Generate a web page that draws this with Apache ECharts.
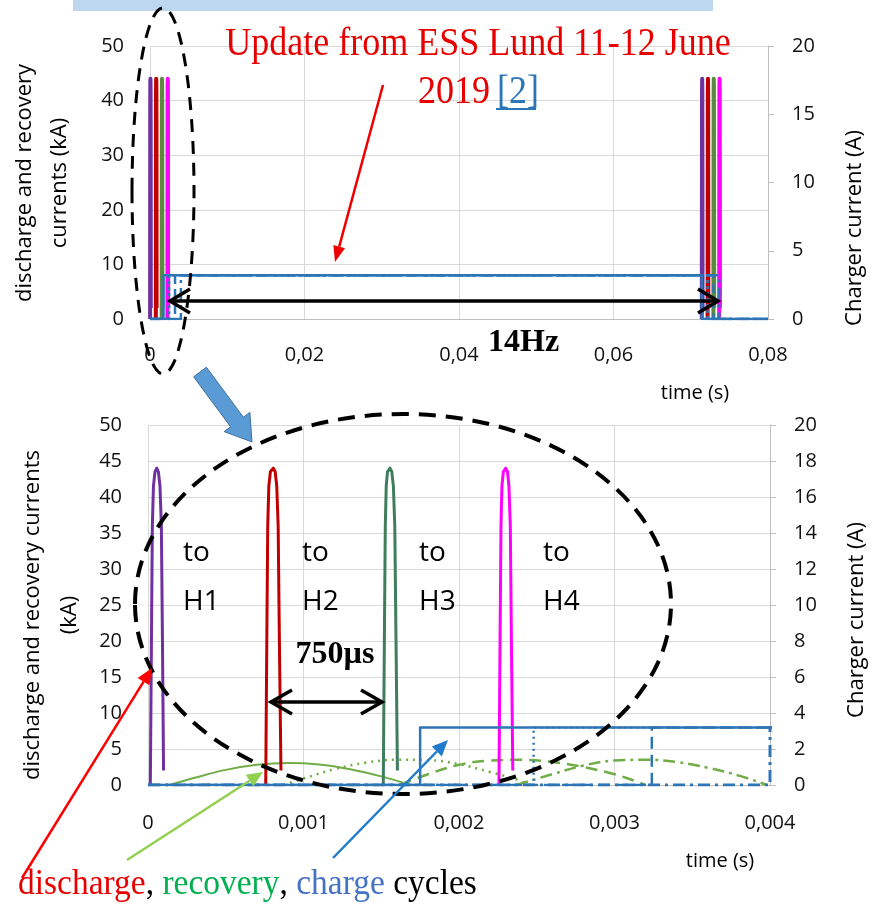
<!DOCTYPE html>
<html><head><meta charset="utf-8">
<script src="https://cdn.jsdelivr.net/npm/echarts/dist/echarts.min.js"></script>
<style>html,body{margin:0;padding:0;background:#fff;}#c{width:875px;height:908px;}</style>
</head><body><div id="c"></div>
<script>
// ---------- DATA (time in s, discharge/recovery in kA, charge in A) ----------
const dischargeH1 = [[0.000015,0],[0.000022,20],[0.000028,36],[0.000035,41.5],[0.000045,43.5],[0.000056,44],[0.000067,43.5],[0.000077,41.5],[0.000086,36],[0.000093,20],[0.0001,2]];
const dischargeH2 = [[0.000757,0],[0.000764,20],[0.00077,36],[0.000777,41.5],[0.000787,43.5],[0.000806,44],[0.000818,43.5],[0.000828,41.5],[0.000837,36],[0.000845,20],[0.000855,2]];
const dischargeH3 = [[0.001513,0],[0.00152,20],[0.001526,36],[0.001532,41.5],[0.00154,43.5],[0.001556,44],[0.001568,43.5],[0.001578,41.5],[0.001587,36],[0.001595,20],[0.001604,2]];
const dischargeH4 = [[0.002257,0],[0.002264,20],[0.00227,36],[0.002276,41.5],[0.002285,43.5],[0.0023,44],[0.002312,43.5],[0.002321,41.5],[0.00233,36],[0.002337,20],[0.002346,2]];
// next 14 Hz cycle (top chart only)
const nextH1 = [[0.07143,0],[0.07146,42],[0.07148,44],[0.0715,42],[0.07153,2]];
const nextH2 = [[0.07218,0],[0.07221,42],[0.07223,44],[0.07225,42],[0.07228,2]];
const nextH3 = [[0.07293,0],[0.07296,42],[0.07298,44],[0.073,42],[0.07303,2]];
const nextH4 = [[0.07368,0],[0.07371,42],[0.07373,44],[0.07375,42],[0.07378,2]];
// recovery currents (kA)
const recovery1 = [[0.00014,0],[0.0003,1.0],[0.0005,2.1],[0.0007,2.8],[0.0009,3.05],[0.0011,2.85],[0.0013,2.2],[0.0015,1.2],[0.00169,0]];
const recovery2 = [[0.00087,0],[0.001,0.9],[0.0012,2.2],[0.0014,3.1],[0.0016,3.5],[0.0018,3.45],[0.002,2.9],[0.0022,1.8],[0.00235,0.9],[0.00246,0]];
const recovery3 = [[0.00162,0],[0.0018,1.5],[0.002,2.8],[0.0022,3.4],[0.0024,3.5],[0.0026,3.2],[0.0028,2.5],[0.003,1.5],[0.0031,0.8],[0.0032,0]];
const recovery4 = [[0.00237,0],[0.0026,1.5],[0.0028,2.7],[0.003,3.4],[0.0032,3.5],[0.0034,3.2],[0.0036,2.4],[0.0038,1.3],[0.00398,0]];
// charger currents (A)
const charge1 = [[0,0],[0.00175,0],[0.00175,3.2],[0.07143,3.2],[0.07143,0],[0.08,0]];
const charge2 = [[0,0],[0.00248,0],[0.00248,3.2],[0.07218,3.2],[0.07218,0],[0.08,0]];
const charge3 = [[0,0],[0.00324,0],[0.00324,3.2],[0.07293,3.2],[0.07293,0],[0.08,0]];
const charge4 = [[0,0],[0.004,0],[0.004,3.2],[0.07368,3.2],[0.07368,0],[0.08,0]];
// axis ranges / ticks
const topTime = {min:0, max:0.08, step:0.02};
const botTime = {min:0, max:0.004, step:0.001};
const topKA = {min:0, max:50, step:10};
const topA = {min:0, max:20, step:5};
const botKA = {min:0, max:50, step:5};
const botA = {min:0, max:20, step:2};

// ---------- STYLE ----------
const SANS = "'Open Sans', 'DejaVu Sans', sans-serif";
const SERIF = "'Liberation Serif', 'DejaVu Serif', serif";
const C = {purple:'#7030a0', red:'#c00000', green:'#3f7d5c', greenTop:'#5b8a3f', magenta:'#ff00ff', rec:'#70ad47', blue:'#2e75b6', grid:'#d9d9d9', axis:'#bfbfbf'};
const fmt = v => v === 0 ? '0' : String(+v.toFixed(4)).replace('.', ',');

function xAx(gi, r, margin){
  return {type:'value', gridIndex:gi, min:r.min, max:r.max, interval:r.step,
    axisLine:{show:true, lineStyle:{color:C.axis}}, axisTick:{show:false},
    splitLine:{show:true, lineStyle:{color:C.grid}},
    axisLabel:{formatter:fmt, color:'#111', fontFamily:SANS, fontSize:20, margin:margin}};
}
function yAx(gi, r, pos, grid){
  return {type:'value', gridIndex:gi, position:pos, min:r.min, max:r.max, interval:r.step,
    axisLine:{show:pos==='right', lineStyle:{color:C.axis}},
    axisTick:{show:pos==='right', length:6, lineStyle:{color:C.axis}},
    splitLine:{show:grid, lineStyle:{color:C.grid}},
    axisLabel:{color:'#111', fontFamily:SANS, fontSize:20, margin:pos==='right'?24:26}};
}
function line(data, xi, yi, color, width, type, z, smooth){
  return {type:'line', data, xAxisIndex:xi, yAxisIndex:yi, showSymbol:false, symbol:'none',
    smooth: smooth || false, animation:false, z: z||2, clip:true,
    lineStyle:{color, width, type: type||'solid', cap:'butt', join:'round'}, itemStyle:{color}};
}
const dashDot = [12,5,3,5];
const series = [
  // top chart
  line(charge1,0,1,C.blue,2.5,'solid',3),
  line(charge2,0,1,C.blue,2.5,[3,3],3),
  line(charge3,0,1,C.blue,2.5,[10,5],3),
  line(charge4,0,1,C.blue,2.5,dashDot,3),
  line(dischargeH1,0,0,C.purple,4), line(dischargeH2,0,0,C.red,4),
  line(dischargeH3,0,0,C.greenTop,4), line(dischargeH4,0,0,C.magenta,4),
  line(nextH1,0,0,C.purple,4), line(nextH2,0,0,C.red,4),
  line(nextH3,0,0,C.greenTop,4), line(nextH4,0,0,C.magenta,4),
  // bottom chart
  line(recovery1,1,2,C.rec,2,'solid',2,0.4),
  line(recovery2,1,2,C.rec,2.5,[2,5],2,0.4),
  line(recovery3,1,2,C.rec,2.5,[12,7],2,0.4),
  line(recovery4,1,2,C.rec,2.5,dashDot,2,0.4),
  line(dischargeH1,1,2,C.purple,3), line(dischargeH2,1,2,C.red,3),
  line(dischargeH3,1,2,C.green,3), line(dischargeH4,1,2,C.magenta,3),
  line(charge1,1,3,C.blue,2.5,'solid',4),
  line(charge2,1,3,C.blue,2.5,[2,4],4),
  line(charge3,1,3,C.blue,2.5,[12,6],4),
  line(charge4,1,3,C.blue,3,dashDot,4)
];

// ---------- ANNOTATIONS ----------
function txt(x,y,text,o){ return Object.assign({type:'text', x, y, silent:true, z:50,
  style:Object.assign({text, fill:'#000', font:'20px '+SANS, align:'center', verticalAlign:'middle'}, o && o.style)}, o && o.el); }
function seg(x1,y1,x2,y2,color,w,dash){ return {type:'line', silent:true, z:50, shape:{x1,y1,x2,y2}, style:{stroke:color, lineWidth:w, lineDash:dash||null}}; }
function poly(points,color,w){ return {type:'polyline', silent:true, z:50, shape:{points}, style:{stroke:color, lineWidth:w, fill:null, lineJoin:'miter'}}; }
function tri(points,color){ return {type:'polygon', silent:true, z:50, shape:{points}, style:{fill:color}}; }

const graphic = [
  {type:'rect', silent:true, z:40, shape:{x:73, y:0, width:640, height:11}, style:{fill:'#bdd7ee'}},
  // axis titles
  txt(25,183,'discharge and recovery',{el:{rotation:Math.PI/2}, style:{font:'22px '+SANS}}),
  txt(60,183,'currents (kA)',{el:{rotation:Math.PI/2}, style:{font:'22px '+SANS}}),
  txt(855,228,'Charger current (A)',{el:{rotation:Math.PI/2}, style:{font:'22px '+SANS}}),
  txt(695,393,'time (s)',{style:{font:'20px '+SANS}}),
  txt(33,615,'discharge and recovery currents',{el:{rotation:Math.PI/2}, style:{font:'22px '+SANS}}),
  txt(70,615,'(kA)',{el:{rotation:Math.PI/2}, style:{font:'22px '+SANS}}),
  txt(857,620,'Charger current (A)',{el:{rotation:Math.PI/2}, style:{font:'22px '+SANS}}),
  txt(720,861,'time (s)',{style:{font:'20px '+SANS}}),
  // title (condensed serif look)
  txt(478,44,'Update from ESS Lund 11-12 June',{el:{scaleX:0.9}, style:{font:'40px '+SERIF, fill:'#e80000'}}),
  txt(418,92,'2019',{el:{scaleX:0.9}, style:{font:'40px '+SERIF, fill:'#e80000', align:'left'}}),
  txt(497,92,'[2]',{el:{scaleX:0.9}, style:{font:'40px '+SERIF, fill:'#2e75b6', align:'left'}}),
  seg(496,109,536,109,'#2e75b6',2),
  // red arrow from title
  seg(383,85,339.2,246.6,'#ee0000',2.5),
  tri([[335,262],[333.4,245.0],[345.0,248.2]],'#ee0000'),
  // top ellipse
  {type:'ellipse', silent:true, z:50, shape:{cx:163, cy:191, rx:31, ry:183}, style:{stroke:'#000', lineWidth:3, fill:null, lineDash:[13,9]}},
  // 14Hz double arrow
  seg(170,301,718,301,'#000',3.5),
  poly([[190,289],[170,301],[190,313]],'#000',3.5),
  poly([[698,289],[718,301],[698,313]],'#000',3.5),
  txt(488,343,'14Hz',{style:{font:'bold 32px '+SERIF, align:'left'}}),
  // blue block arrow
  {type:'polygon', silent:true, z:50, shape:{points:[[193.6,376.8],[230.6,426.8],[224.1,431.6],[252,442],[249.9,412.4],[243.4,417.2],[206.4,367.2]]}, style:{fill:'#5b9bd5', stroke:'#41719c', lineWidth:1}},
  // big ellipse
  {type:'ellipse', silent:true, z:50, shape:{cx:403, cy:604, rx:268, ry:190}, style:{stroke:'#000', lineWidth:4, fill:null, lineDash:[17,10]}},
  // to Hx labels
  txt(183,553,'to',{style:{font:'28px '+SANS, align:'left'}}), txt(183,602,'H1',{style:{font:'28px '+SANS, align:'left'}}),
  txt(302,553,'to',{style:{font:'28px '+SANS, align:'left'}}), txt(302,602,'H2',{style:{font:'28px '+SANS, align:'left'}}),
  txt(419,553,'to',{style:{font:'28px '+SANS, align:'left'}}), txt(419,602,'H3',{style:{font:'28px '+SANS, align:'left'}}),
  txt(543,553,'to',{style:{font:'28px '+SANS, align:'left'}}), txt(543,602,'H4',{style:{font:'28px '+SANS, align:'left'}}),
  // 750us arrow
  txt(335,655,'750µs',{style:{font:'bold 32px '+SERIF}}),
  seg(271,702,382,702,'#000',3.5),
  poly([[292,690],[271,702],[292,714]],'#000',3.5),
  poly([[361,690],[382,702],[361,714]],'#000',3.5),
  // bottom-left arrows
  seg(22,878,143.6,681.6,'#ff0000',2.5), tri([[152,668],[149.5,685.3],[137.6,677.9]],'#ff0000'),
  seg(127,860,249.6,780.7,'#92d050',2.5), tri([[263,772],[253.4,786.6],[245.8,774.8]],'#92d050'),
  seg(333,858,436.8,751.5,'#1f7ccc',2.5), tri([[448,740],[441.8,756.4],[431.8,746.6]],'#1f7ccc'),
  // caption
  {type:'text', x:18, y:885, scaleX:0.93, silent:true, z:50, style:{
    text:'{r|discharge}{k|, }{g|recovery}{k|, }{b|charge}{k| cycles}', align:'left', verticalAlign:'middle',
    font:'36px '+SERIF,
    rich:{ r:{fill:'#e80000', font:'36px '+SERIF}, g:{fill:'#00b050', font:'36px '+SERIF},
           b:{fill:'#4472c4', font:'36px '+SERIF}, k:{fill:'#000', font:'36px '+SERIF} }}}
];

const chart = echarts.init(document.getElementById('c'), null, {renderer:'canvas'});
chart.setOption({
  animation:false,
  backgroundColor:'#fff',
  grid:[{left:150, top:46, width:618, height:273}, {left:148, top:425, width:622, height:360}],
  xAxis:[xAx(0, topTime, 26), xAx(1, botTime, 28)],
  yAxis:[yAx(0, topKA, 'left', true), yAx(0, topA, 'right', false), yAx(1, botKA, 'left', true), yAx(1, botA, 'right', false)],
  series, graphic
});
</script></body></html>
